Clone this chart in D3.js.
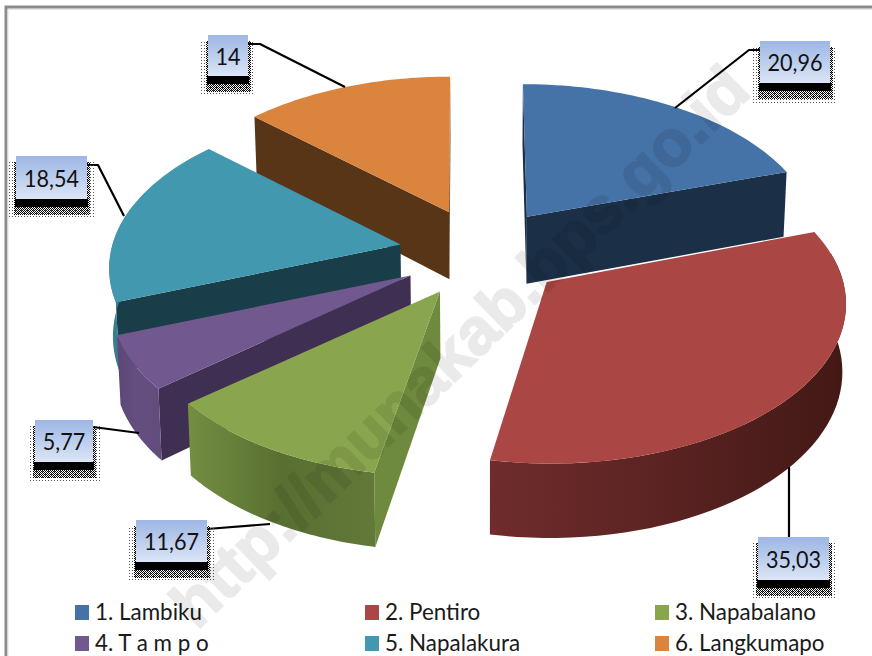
<!DOCTYPE html>
<html>
<head>
<meta charset="utf-8">
<script src="https://cdnjs.cloudflare.com/ajax/libs/d3/7.8.5/d3.min.js"></script>
<style>
html,body{margin:0;padding:0;background:#fff;overflow:hidden}
svg{display:block}
text{font-family:Lato,"Open Sans",sans-serif}
</style>
</head>
<body>
<svg id="chart" width="872" height="656"></svg>
<script>
// Exploded 3D pie: share of each district
const categories = ["1. Lambiku","2. Pentiro","3. Napabalano","4. T a m p o","5. Napalakura","6. Langkumapo"];
const values = [20.96,35.03,11.67,5.77,18.54,14];
const topColors = ["#4572a7","#aa4643","#89a54e","#71588f","#4198af","#db843d"];
const cutColors = ["#1b2f47","#451a17","#6d8a3e","#3f2f52","#1a3e49","#593518"];
const wallStops = [
  ["#1b2f47","#1b2f47","#1b2f47"],
  ["#6f2c2c","#5a2322","#421815"],
  ["#738f42","#596f31","#62793a"],
  ["#5c4776","#654e80","#624c7c"],
  ["#3a8296","#37798c","#3a8296"],
  ["#593518","#593518","#593518"]
];
const paintOrder = [5,4,3,2,1,0];
const calloutBoxes = [
  {x:760,y:41,w:70,h:42},{x:758,y:537,w:71,h:43},{x:136,y:520,w:71,h:42},
  {x:35,y:420,w:58,h:42},{x:16,y:156,w:71,h:43},{x:208,y:35,w:40,h:41}
];
const calloutLines = [
  [[760,50],[749,50],[675,108]],
  [[789,537],[789,467]],
  [[207,529],[270,524]],
  [[93,427],[139,433]],
  [[87,165],[98,165],[124,216]],
  [[248,44],[260,44],[345,87]]
];

// Projection of the pie's ground plane
const centre = {x:483, y:253};
const explode = {x:84, y:44.5};
const radius = {x:292, y:156};
const perspective = 0.15;
const depth = 67;
const depthTaper = 0.10;
const lateralShrink = 0.99;
// Per-slice corrections to the tip and to the curved rim, in pixels
const tipShift = [[-5,0],[0,0],[-1,0],[0,0],[0,0],[0,0]];
const rimShift = [[-4,3],[4,-2],[-5,1],[-5,2],[4,0],[1,0]];

const svg = d3.select("#chart");
const defs = svg.append("defs");

// Dithered halo used by the callout shadows
const dither = defs.append("pattern").attr("id","dither").attr("width",2).attr("height",2)
  .attr("patternUnits","userSpaceOnUse");
dither.append("rect").attr("width",1).attr("height",1).attr("fill","#000");
dither.append("rect").attr("x",1).attr("y",1).attr("width",1).attr("height",1).attr("fill","#000");
const sparse = defs.append("pattern").attr("id","sparse").attr("width",3).attr("height",3)
  .attr("patternUnits","userSpaceOnUse");
sparse.append("rect").attr("width",1).attr("height",1).attr("fill","#555");

const boxFill = defs.append("linearGradient").attr("id","boxFill").attr("x1",0).attr("y1",0).attr("x2",0).attr("y2",1);
boxFill.append("stop").attr("offset",0).attr("stop-color","#9db6e4");
boxFill.append("stop").attr("offset",1).attr("stop-color","#dbe5f6");

const arcs = d3.pie().sort(null).value(d => d)(values);
const toAngle = d3.scaleLinear().domain([0,1]);
const line = d3.line().x(p => p[0]).y(p => p[1]);

function tipOf(a,i){
  const mid = (a.startAngle + a.endAngle)/2;
  return [centre.x + explode.x*Math.sin(mid) + tipShift[i][0],
          centre.y - explode.y*Math.cos(mid) + tipShift[i][1]];
}
function rim(tip, t, i){
  const s = 1/(1 + perspective*Math.cos(t));
  return [tip[0] + rimShift[i][0] + radius.x*Math.sin(t)*s,
          tip[1] + rimShift[i][1] - radius.y*Math.cos(t)*s];
}
function lower(p, t){
  const h = t === null ? depth : depth/(1 + depthTaper*Math.cos(t));
  return [centre.x + (p[0]-centre.x)*lateralShrink, p[1] + h];
}
function sampleAngles(a0, a1){
  toAngle.range([a0,a1]);
  return d3.range(0,1.0001,1/48).map(toAngle);
}

const sliceLayer = svg.append("g");
paintOrder.forEach(i => {
  const a = arcs[i], tip = tipOf(a,i);
  const g = sliceLayer.append("g");

  // Radial cut faces turned towards the viewer
  [[a.startAngle,-Math.PI/2],[a.endAngle,Math.PI/2]].forEach(([t,turn]) => {
    if (Math.cos(t+turn) > 0.01) return;
    const p = rim(tip,t,i);
    g.append("path")
      .attr("d", line([p, tip, lower(tip,null), lower(p,t)]) + "Z")
      .attr("fill", cutColors[i]);
  });

  // Curved outer wall, only the part on the near side
  const lo = Math.max(a.startAngle, 80*Math.PI/180);
  const hi = Math.min(a.endAngle, 285*Math.PI/180);
  if (hi > lo){
    const ts = sampleAngles(lo,hi);
    const upper = ts.map(t => rim(tip,t,i));
    const under = ts.map((t,k) => lower(upper[k],t)).reverse();
    const xs = d3.extent(upper, p => p[0]);
    const grad = defs.append("linearGradient").attr("id","wall"+i)
      .attr("gradientUnits","userSpaceOnUse")
      .attr("x1",xs[0]).attr("x2",xs[1]).attr("y1",0).attr("y2",0);
    wallStops[i].forEach((c,k) => grad.append("stop").attr("offset",k/2).attr("stop-color",c));
    g.append("path").attr("d", line(upper.concat(under)) + "Z").attr("fill","url(#wall"+i+")");
  }

  // Top face
  const top = sampleAngles(a.startAngle,a.endAngle).map(t => rim(tip,t,i));
  g.append("path").attr("d", line([tip].concat(top)) + "Z").attr("fill",topColors[i]);
});

// Frame around the plot
svg.append("path").attr("d","M6,656V7H872").attr("fill","none").attr("stroke","#8c8c8c").attr("stroke-width",3);
svg.append("path").attr("d","M8,656V9.5H872").attr("fill","none").attr("stroke","#e4e4e4").attr("stroke-width",1);

// Leader lines and value callouts
const callouts = svg.append("g");
calloutLines.forEach(pts => {
  callouts.append("path").attr("d",line(pts)).attr("fill","none")
    .attr("stroke","#000").attr("stroke-width",2.2).attr("stroke-linejoin","round");
});
values.forEach((v,i) => {
  const b = calloutBoxes[i];
  callouts.append("rect").attr("x",b.x-7).attr("y",b.y+6).attr("width",b.w+14).attr("height",b.h+14).attr("fill","url(#sparse)");
  callouts.append("rect").attr("x",b.x-2).attr("y",b.y+6).attr("width",b.w+5).attr("height",b.h+10).attr("fill","url(#dither)");
  callouts.append("rect").attr("x",b.x-1).attr("y",b.y+b.h).attr("width",b.w+2).attr("height",8).attr("fill","#000");
  callouts.append("rect").attr("x",b.x).attr("y",b.y).attr("width",b.w).attr("height",b.h).attr("fill","url(#boxFill)");
  callouts.append("text")
    .attr("transform",`translate(${b.x+b.w/2},${b.y+b.h/2+9}) scale(0.9,1)`)
    .attr("text-anchor","middle").attr("font-size",24)
    .attr("fill","#111").text(String(v).replace(".",","));
});

// Legend, two rows of three
const legendX = d3.scalePoint().domain([0,1,2]).range([75,655]);
const legendY = d3.scalePoint().domain([0,1]).range([605,636]);
const legend = svg.append("g");
categories.forEach((name,i) => {
  const x = legendX(i%3), y = legendY(Math.floor(i/3));
  legend.append("rect").attr("x",x).attr("y",y).attr("width",14).attr("height",15).attr("fill",topColors[i]);
  legend.append("text")
    .attr("transform",`translate(${x+20},${y+15}) scale(0.975,1)`)
    .attr("font-size",23).attr("fill","#1a1a1a").text(name);
});

// Site address running across the chart
svg.append("text")
  .attr("transform","translate(463,350) rotate(-44)")
  .attr("text-anchor","middle").attr("dominant-baseline","middle")
  .style("font-family","'Liberation Sans',sans-serif").style("font-weight","bold")
  .attr("font-size",65).attr("fill","#000").attr("stroke","#000").attr("stroke-width",2)
  .attr("opacity",0.08)
  .text("http://munakab.bps.go.id");
</script>
</body>
</html>
